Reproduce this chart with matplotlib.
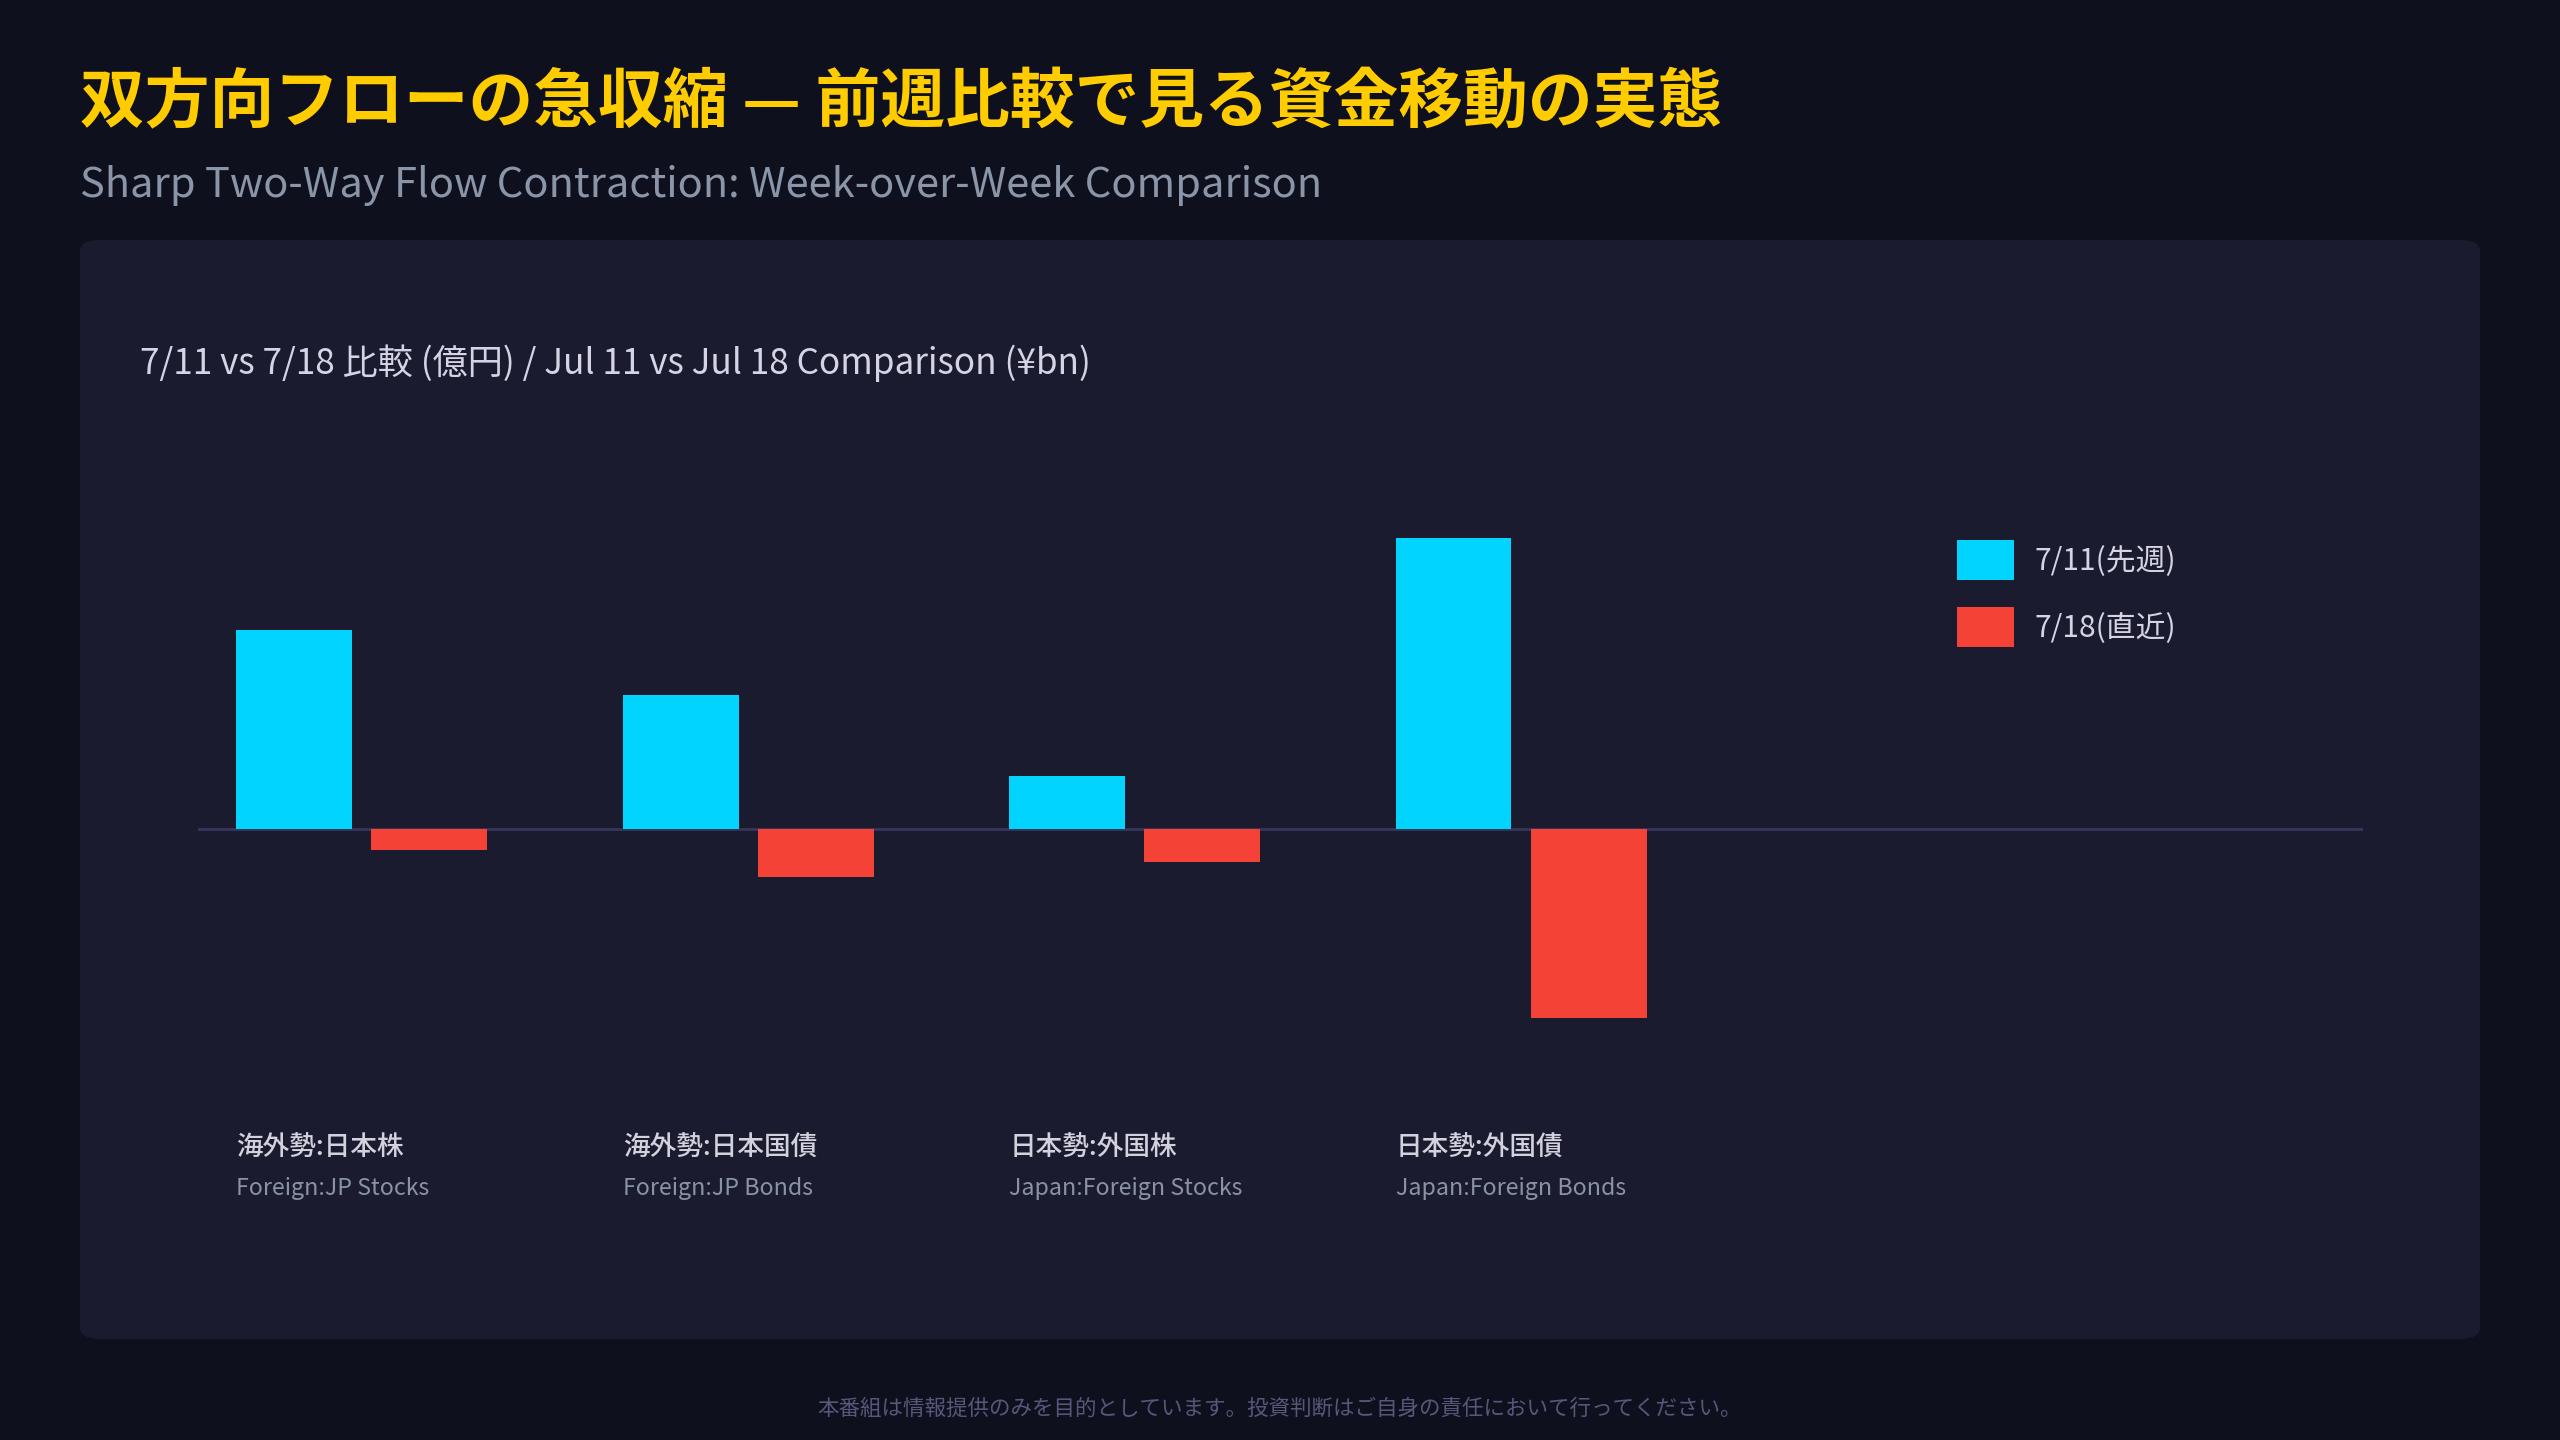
import matplotlib
matplotlib.use("Agg")
import matplotlib.pyplot as plt
import matplotlib.transforms as mtransforms
from matplotlib.patches import FancyBboxPatch, Patch

plt.rcParams['font.family'] = ['Noto Sans CJK JP', 'DejaVu Sans']

# data (億円)
cats_jp = ['海外勢:日本株', '海外勢:日本国債', '日本勢:外国株', '日本勢:外国債']
cats_en = ['Foreign:JP Stocks', 'Foreign:JP Bonds', 'Japan:Foreign Stocks', 'Japan:Foreign Bonds']
prev_week = [9970, 6700, 2630, 14560]     # 7/11
last_week = [-1070, -2420, -1650, -9490]  # 7/18
series_names = ['7/11(先週)', '7/18(直近)']

BG = '#0f101d'
PANEL = '#1a1b2e'
CYAN = '#00d4ff'
RED = '#f44336'

W, H = 2560, 1440
fig = plt.figure(figsize=(25.6, 14.4), dpi=100, facecolor=BG)

# panel behind the chart
panel = FancyBboxPatch((80 / W, 1 - 1339 / H), 2400 / W, 1099 / H,
                       boxstyle='round,pad=0,rounding_size=0.008',
                       transform=fig.transFigure, facecolor=PANEL,
                       edgecolor='none', zorder=-5)
fig.patches.append(panel)

fig.text(80 / W, 1 - 104 / H, '双方向フローの急収縮 — 前週比較で見る資金移動の実態',
         color='#ffcc00', fontsize=46.6, fontweight='bold', va='center', ha='left')
fig.text(80 / W, 1 - 186 / H, 'Sharp Two-Way Flow Contraction: Week-over-Week Comparison',
         color='#8a95a8', fontsize=30, va='center', ha='left')
fig.text(140 / W, 1 - 363 / H, '7/11 vs 7/18 比較 (億円) / Jul 11 vs Jul 18 Comparison (¥bn)',
         color='#d4d4e4', fontsize=25.3, va='center', ha='left')
fig.text(0.5, 1 - 1409 / H,
         '本番組は情報提供のみを目的としています。投資判断はご自身の責任において行ってください。',
         color='#55587a', fontsize=15.5, va='center', ha='center')

# chart axes
ax = fig.add_axes([197.5 / W, 1 - 1060 / H, 2165 / W, 580 / H])
ax.set_facecolor('none')
x = list(range(len(cats_jp)))
ax.bar([i - 0.25 for i in x], prev_week, width=0.3, color=CYAN, label=series_names[0], zorder=2)
ax.bar([i + 0.1 for i in x], last_week, width=0.3, color=RED, label=series_names[1], zorder=2)
ax.axhline(0, color='#35365a', lw=2, zorder=1)
ax.set_xlim(-0.5, 5.102)
ax.set_ylim(-11600, 17490)
ax.axis('off')

# category labels under the bars
trans = mtransforms.blended_transform_factory(ax.transData, fig.transFigure)
for i in x:
    ax.text(i - 0.4, 1 - 1148 / H, cats_jp[i], transform=trans, color='#d2d2de',
            fontsize=19.2, fontweight='medium', va='center', ha='left', clip_on=False)
    ax.text(i - 0.4, 1 - 1189 / H, cats_en[i], transform=trans, color='#8a93a6',
            fontsize=16.7, va='center', ha='left', clip_on=False)

handles = [Patch(facecolor=CYAN, label=series_names[0]),
           Patch(facecolor=RED, label=series_names[1])]
leg = fig.legend(handles=handles, loc='upper left',
                 bbox_to_anchor=(1957 / W, 1 - 540 / H), frameon=False,
                 borderpad=0, borderaxespad=0, handlelength=1.9, handleheight=1.67,
                 handletextpad=0.7, labelspacing=0.92, fontsize=21.5)
for t in leg.get_texts():
    t.set_color('#d4d4e4')

fig.savefig('out.png', dpi=100, facecolor=BG)
